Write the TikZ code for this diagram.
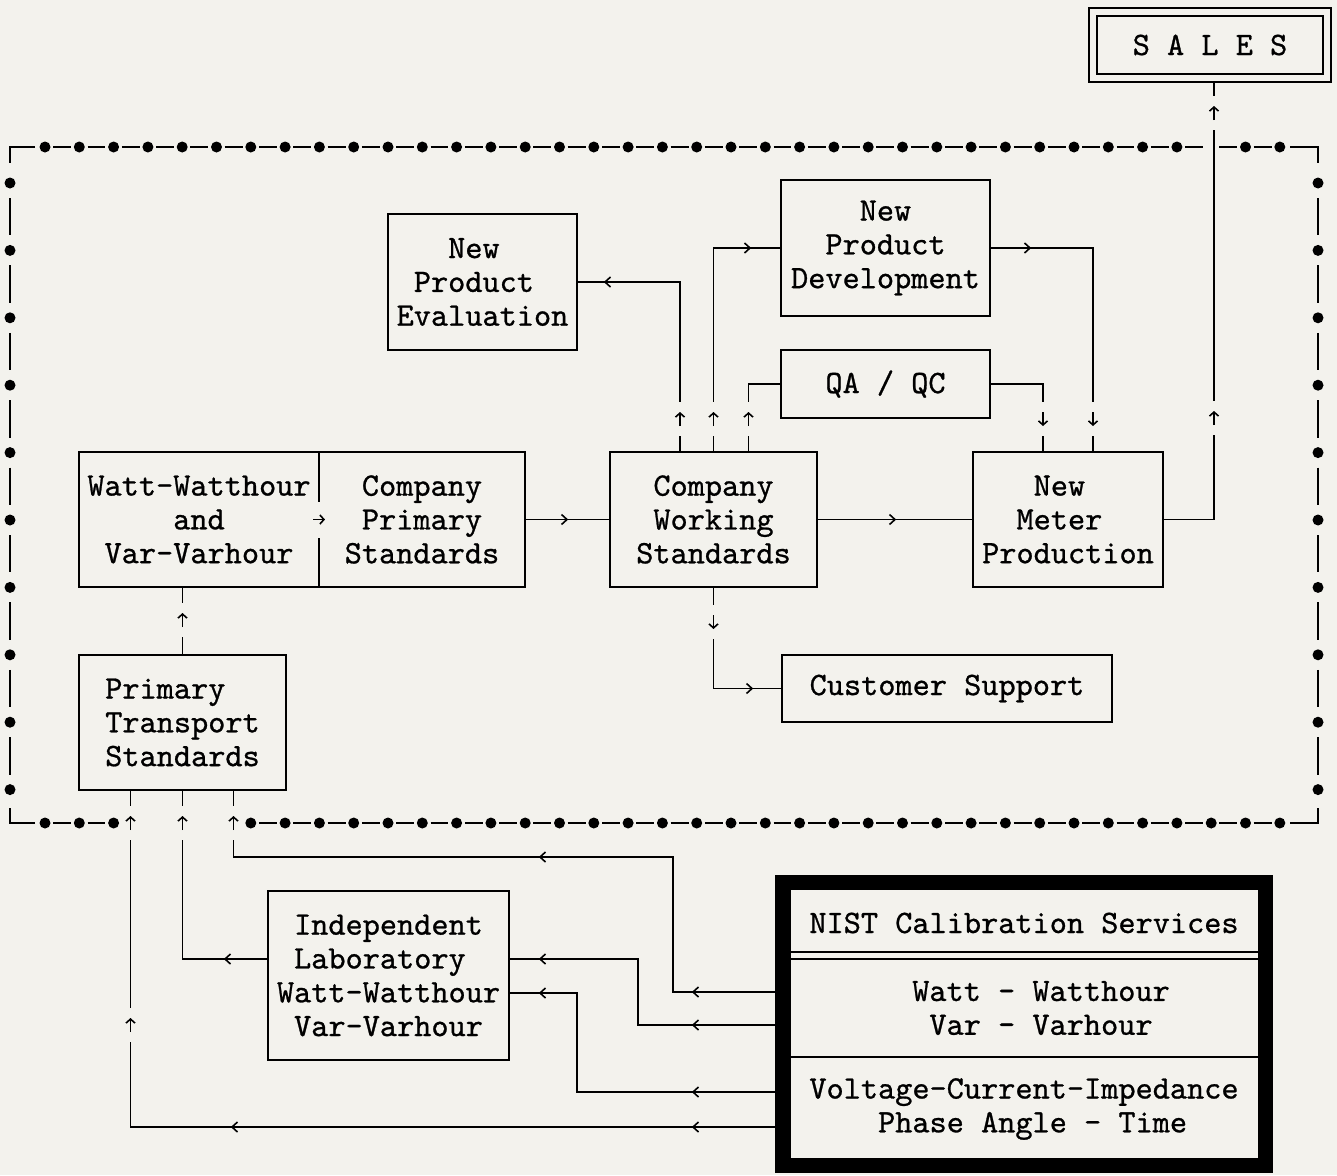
\documentclass[tikz,border=0pt]{standalone}
\usepackage{fontspec}
\usepackage{tikz}
\usetikzlibrary{positioning,arrows.meta}

\newfontfamily\typefont{lmmono10-regular.otf}[FakeBold=0.8]
\definecolor{paper}{RGB}{243,242,237}
\newcommand{\boxfont}{\fontsize{32.7}{33.8}\selectfont\typefont}

\tikzset{
  box/.style={draw, line width=2pt, inner sep=0pt, align=center, font=\boxfont},
  link/.style={line width=1.9pt},
  dotline/.style={line width=1.9pt},
  gaparr/.pic={
    \fill[paper] (-17pt,-6pt) rectangle (17pt,6pt);
    \draw[line width=1.6pt, -{Straight Barb[length=4pt,width=9pt]}] (-7pt,0) -- (7pt,0);
  },
  cutarr/.pic={
    \fill[paper] (-9pt,-18pt) rectangle (9pt,18pt);
    \draw[line width=1.6pt, -{Straight Barb[length=4pt,width=9pt]}] (-6pt,0) -- (6pt,0);
  },
  midarr/.pic={
    \draw[line width=1.6pt] (-5.5pt,5pt) -- (0,0) -- (-5.5pt,-5pt);
  }
}

\begin{document}
\begin{tikzpicture}[x=1pt, y=-1pt]
  \useasboundingbox (0,0) rectangle (1337,1175);
  \fill[paper] (0,0) rectangle (1337,1175);

  % Boxes
  \node[box, double=paper, double distance=6pt, line width=1.8pt, outer sep=0pt,
        minimum width=234pt, minimum height=66pt] (sales) at (1210,45) {S A L E S};
  \node[box, minimum width=189pt, minimum height=136pt] (npe) at (482.5,282) {New\hphantom{x}\\Product\hphantom{x}\\Evaluation};
  \node[box, minimum width=209pt, minimum height=136pt] (npd) at (885.5,248) {New\\Product\\Development};
  \node[box, minimum width=209pt, minimum height=68pt] (qaqc) at (885.5,384) {QA / QC};
  \node[box, minimum width=240pt, minimum height=135pt] (wwv) at (199,519.5) {Watt-Watthour\\and\\Var-Varhour};
  \node[box, minimum width=206pt, minimum height=135pt] (cps) at (422,519.5) {Company\\Primary\\Standards};
  \node[box, minimum width=207pt, minimum height=135pt] (cws) at (713.5,519.5) {Company\\Working\\Standards};
  \node[box, minimum width=190pt, minimum height=135pt] (nmp) at (1068,519.5) {New\hphantom{x}\\Meter\hphantom{x}\\Production};
  \node[box, minimum width=330pt, minimum height=67pt] (cus) at (947,688.5) {Customer Support};
  \node[box, align=left, minimum width=207pt, minimum height=135pt] (pts) at (182.5,722.5) {Primary\\Transport\\Standards};
  \node[box, minimum width=241pt, minimum height=169pt] (lab) at (388.5,975.5) {Independent\\Laboratory\hphantom{x}\\Watt-Watthour\\Var-Varhour};

  % NIST services
  \node[draw, line width=15.5pt, inner sep=0pt, minimum width=482.5pt, minimum height=283pt] (nist) at (1024,1024) {};
  \node[font=\boxfont, inner sep=0pt] (nisttitle) at (1024,923) {NIST Calibration Services};
  \node[font=\boxfont, inner sep=0pt, align=center] (nistwatt) at (1041,1008) {Watt - Watthour\\Var - Varhour};
  \node[font=\boxfont, inner sep=0pt, align=center] (nistvolt) at (1024,1109) {Voltage-Current-Impedance\\\hphantom{x}Phase Angle - Time};
  \draw[link] ([yshift=72pt]nist.west) -- ([yshift=72pt]nist.east);
  \draw[link] ([yshift=65pt]nist.west) -- ([yshift=65pt]nist.east);
  \draw[link] ([yshift=-33pt]nist.west) -- ([yshift=-33pt]nist.east);

  % Links
  \draw[link] (cps.east) -- (cws.west);
  \draw[link] (cws.east) -- (nmp.west);
  \draw[link] (nmp.east) -| ([xshift=4pt,yshift=-4pt]sales.south);
  \draw[link] ([xshift=-33.5pt]cws.north) |- (npe.east);
  \draw[link] (cws.north) |- (npd.west);
  \draw[link] ([xshift=35pt]cws.north) |- (qaqc.west);
  \draw[link] (npd.east) -| ([xshift=25pt]nmp.north);
  \draw[link] (qaqc.east) -| ([xshift=-25pt]nmp.north);
  \draw[link] (cws.south) |- (cus.west);
  \draw[link] (pts.north) -- (pts.north |- wwv.south);
  \draw[link] ([yshift=32pt]nist.west) -- ++(-102,0) -- ++(0,-135) -| ([xshift=51pt]pts.south);
  \draw[link] ([yshift=-1pt]nist.west) -- ++(-137,0) |- ([yshift=16.5pt]lab.east);
  \draw[link] ([yshift=-68pt]nist.west) -- ++(-198,0) |- ([yshift=-17.5pt]lab.east);
  \draw[link] ([yshift=-103pt]nist.west) -| ([xshift=-52pt]pts.south);
  \draw[link] ([yshift=16.5pt]lab.west) -| (pts.south);

  % Dotted frame
  \foreach \k in {0,...,36} {
    \ifnum\k=34 \else \fill (45+34.3*\k,147) circle (5.5pt); \fi
  }
  \foreach \k in {0,...,35}
    \draw[dotline] (53.2+34.3*\k,147) -- (71.1+34.3*\k,147);
  \foreach \k in {0,1,2}
    \fill (45+34.3*\k,823) circle (5.5pt);
  \foreach \k in {6,...,36}
    \fill (45+34.3*\k,823) circle (5.5pt);
  \foreach \k in {0,1}
    \draw[dotline] (53.2+34.3*\k,823) -- (71.1+34.3*\k,823);
  \foreach \k in {6,...,35}
    \draw[dotline] (53.2+34.3*\k,823) -- (71.1+34.3*\k,823);
  \foreach \j in {0,...,9} {
    \fill (10,183+67.4*\j) circle (5.5pt);
    \fill (1318,183+67.4*\j) circle (5.5pt);
  }
  \foreach \j in {0,...,8} {
    \draw[dotline] (10,198+67.4*\j) -- (10,235.4+67.4*\j);
    \draw[dotline] (1318,198+67.4*\j) -- (1318,235.4+67.4*\j);
  }
  \draw[dotline] (35,147) -| (10,163);
  \draw[dotline] (1290,147) -| (1318,163);
  \draw[dotline] (35,823) -| (10,808);
  \draw[dotline] (1290,823) -| (1318,808);

  % Arrow marks
  \foreach \x/\y in {540/857, 693/992, 540/959, 693/1025, 540/993, 693/1092, 232/1127, 693/1127, 225/959, 605/282}
    \pic[rotate=180] at (\x,\y) {midarr};
  \foreach \x/\y in {750/248, 1030/248, 567/519.5, 895/519.5, 752/688.5}
    \pic at (\x,\y) {midarr};
  \foreach \x/\y in {680/419, 713.5/419, 748.5/419, 1214/418, 1214/113, 182.5/620, 130.5/823, 182.5/823, 233.5/823, 130.5/1025}
    \pic[rotate=90] at (\x,\y) {gaparr};
  \foreach \x/\y in {1043/419, 1093/419, 713.5/622}
    \pic[rotate=-90] at (\x,\y) {gaparr};
  \pic at (319,519.5) {cutarr};

\end{tikzpicture}
\end{document}
